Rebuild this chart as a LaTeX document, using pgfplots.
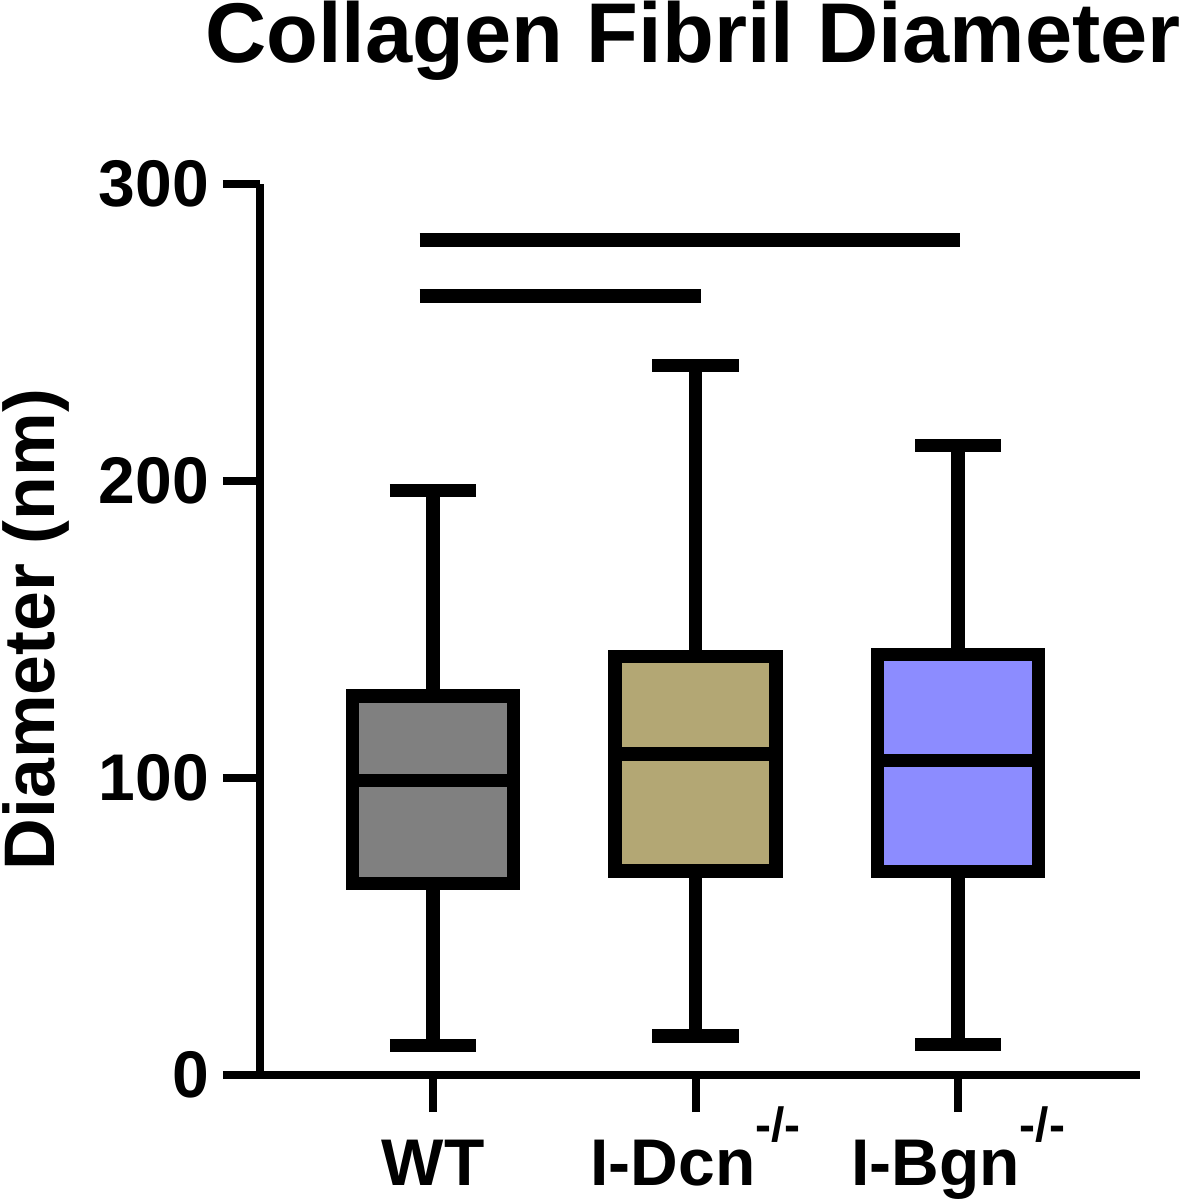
\documentclass[border=0pt]{standalone}
\usepackage{fontspec}
\setmainfont{Liberation Sans}
\usepackage{pgfplots}
\pgfplotsset{compat=1.18}

\definecolor{wtgray}{HTML}{808080}
\definecolor{dcntan}{HTML}{B3A774}
\definecolor{bgnblue}{HTML}{8C8CFF}

% knockout superscript
\newcommand{\ko}{\raisebox{11pt}{\fontsize{12}{14}\selectfont -/-}}

\begin{document}
\begin{tikzpicture}
\useasboundingbox (-65pt,-31.25pt) rectangle (235pt,268.75pt);
\begin{axis}[
    scale only axis,
    width=220pt, height=222.75pt,
    xmin=0.341, xmax=3.693,
    ymin=0, ymax=300,
    axis lines=left,
    axis line style={-, line width=2.2pt},
    xtick={1,2,3},
    xticklabels={WT, I-Dcn\ko, I-Bgn\ko},
    xticklabel style={text height=12pt, yshift=-2.9pt},
    ytick={0,100,200,300},
    tick align=outside,
    major tick length=9.25pt,
    tick style={line width=2pt, black},
    ticklabel style={font=\fontsize{16.5}{19}\selectfont\bfseries},
    /pgf/number format/assume math mode=true,
    ylabel={Diameter (nm)},
    ylabel style={at={(axis description cs:-0.233,0.5)}, anchor=base,
        font=\fontsize{17.9}{20}\selectfont\bfseries},
    title={Collagen Fibril Diameter},
    title style={at={(axis description cs:0.492,1)}, anchor=base, yshift=24.4pt,
        font=\fontsize{21.2}{24}\selectfont\bfseries},
    bx/.style={draw=black, solid, mark=none, line width=3.3pt},
    clip=false,
]
% WT: whiskers 9.8 / 196.7, quartiles 64.5 / 127.6, median 99.2
\addplot[bx] coordinates {(1,127.6) (1,196.7)};
\addplot[bx] coordinates {(0.836,196.7) (1.164,196.7)};
\addplot[bx] coordinates {(1,64.5) (1,9.8)};
\addplot[bx] coordinates {(0.836,9.8) (1.164,9.8)};
\addplot[bx, fill=wtgray] coordinates {(0.6935,64.5) (1.3065,64.5) (1.3065,127.6) (0.6935,127.6)} -- cycle;
\addplot[bx] coordinates {(0.6935,99.2) (1.3065,99.2)};

% I-Dcn: whiskers 13.1 / 238.8, quartiles 68.7 / 140.8, median 108.1
\addplot[bx] coordinates {(2,140.8) (2,238.8)};
\addplot[bx] coordinates {(1.836,238.8) (2.164,238.8)};
\addplot[bx] coordinates {(2,68.7) (2,13.1)};
\addplot[bx] coordinates {(1.836,13.1) (2.164,13.1)};
\addplot[bx, fill=dcntan] coordinates {(1.6935,68.7) (2.3065,68.7) (2.3065,140.8) (1.6935,140.8)} -- cycle;
\addplot[bx] coordinates {(1.6935,108.1) (2.3065,108.1)};

% I-Bgn: whiskers 10.3 / 211.9, quartiles 68.5 / 141.6, median 106.0
\addplot[bx] coordinates {(3,141.6) (3,211.9)};
\addplot[bx] coordinates {(2.836,211.9) (3.164,211.9)};
\addplot[bx] coordinates {(3,68.5) (3,10.3)};
\addplot[bx] coordinates {(2.836,10.3) (3.164,10.3)};
\addplot[bx, fill=bgnblue] coordinates {(2.6935,68.5) (3.3065,68.5) (3.3065,141.6) (2.6935,141.6)} -- cycle;
\addplot[bx] coordinates {(2.6935,106.0) (3.3065,106.0)};

% significance bars
\addplot[bx, line width=3.5pt] coordinates {(0.949,281.0) (3.008,281.0)};
\addplot[bx, line width=3.5pt] coordinates {(0.949,262.2) (2.019,262.2)};
\end{axis}
\end{tikzpicture}
\end{document}
